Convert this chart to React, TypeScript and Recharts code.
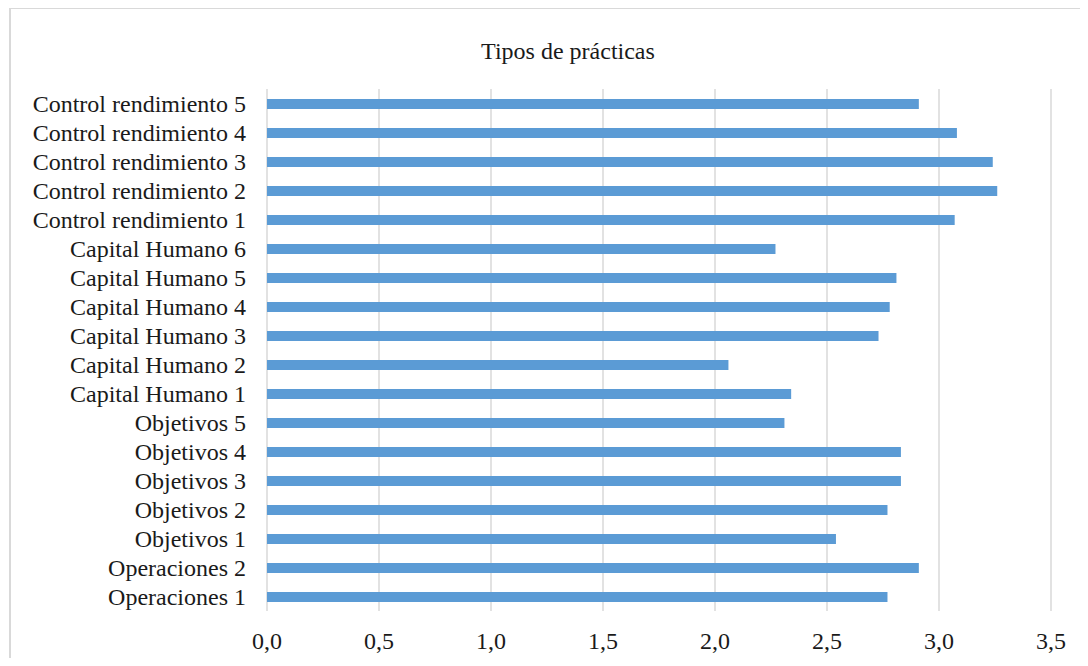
import React from "react";
import { BarChart, Bar, XAxis, YAxis, CartesianGrid } from "recharts";

// Practice categories, listed top to bottom
const categories: string[] = [
  "Control rendimiento 5",
  "Control rendimiento 4",
  "Control rendimiento 3",
  "Control rendimiento 2",
  "Control rendimiento 1",
  "Capital Humano 6",
  "Capital Humano 5",
  "Capital Humano 4",
  "Capital Humano 3",
  "Capital Humano 2",
  "Capital Humano 1",
  "Objetivos 5",
  "Objetivos 4",
  "Objetivos 3",
  "Objetivos 2",
  "Objetivos 1",
  "Operaciones 2",
  "Operaciones 1",
];

// Mean score per practice
const scores: number[] = [
  2.91, 3.08, 3.24, 3.26, 3.07,
  2.27, 2.81, 2.78, 2.73, 2.06, 2.34,
  2.31, 2.83, 2.83, 2.77, 2.54,
  2.91, 2.77,
];

const xTicks: number[] = [0, 0.5, 1, 1.5, 2, 2.5, 3, 3.5];

const chartTitle = "Tipos de prácticas";

const data = categories.map((name, i) => ({ name, value: scores[i] }));

const serif = "'Liberation Serif', 'Times New Roman', serif";

export default function App() {
  return (
    <div
      style={{
        position: "relative",
        width: 1088,
        height: 666,
        margin: -8,
        overflow: "hidden",
        background: "#ffffff",
      }}
    >
      {/* chart frame */}
      <div
        style={{
          position: "absolute",
          left: 9,
          top: 7,
          width: 1300,
          height: 900,
          border: "2px solid #d9d9d9",
          boxSizing: "border-box",
        }}
      />
      <svg
        width={1088}
        height={666}
        style={{ position: "absolute", left: 0, top: 0 }}
      >
        <text
          x={568}
          y={59}
          textAnchor="middle"
          fill="#1a1a1a"
          fontFamily={serif}
          fontSize={24}
        >
          {chartTitle}
        </text>
      </svg>
      <div style={{ position: "absolute", left: 0, top: 0 }}>
        <BarChart
          width={1088}
          height={666}
          data={data}
          layout="vertical"
          margin={{ top: 89, right: 37, bottom: 15, left: 10 }}
          barCategoryGap={0}
        >
          <CartesianGrid
            horizontal={false}
            stroke="#d9d9d9"
            strokeWidth={1.5}
          />
          <XAxis
            type="number"
            domain={[0, 3.5]}
            ticks={xTicks}
            height={40}
            axisLine={false}
            tickLine={false}
            tickSize={0}
            tickMargin={21}
            interval={0}
            tickFormatter={(v: number) => v.toFixed(1).replace(".", ",")}
            tick={{ fill: "#1a1a1a", fontFamily: serif, fontSize: 24 }}
          />
          <YAxis
            type="category"
            dataKey="name"
            width={257}
            axisLine={false}
            tickLine={false}
            tickSize={0}
            tickMargin={21}
            interval={0}
            tick={{ fill: "#1a1a1a", fontFamily: serif, fontSize: 24 }}
          />
          <Bar
            dataKey="value"
            fill="#5b9bd5"
            barSize={10}
            isAnimationActive={false}
          />
        </BarChart>
      </div>
    </div>
  );
}
